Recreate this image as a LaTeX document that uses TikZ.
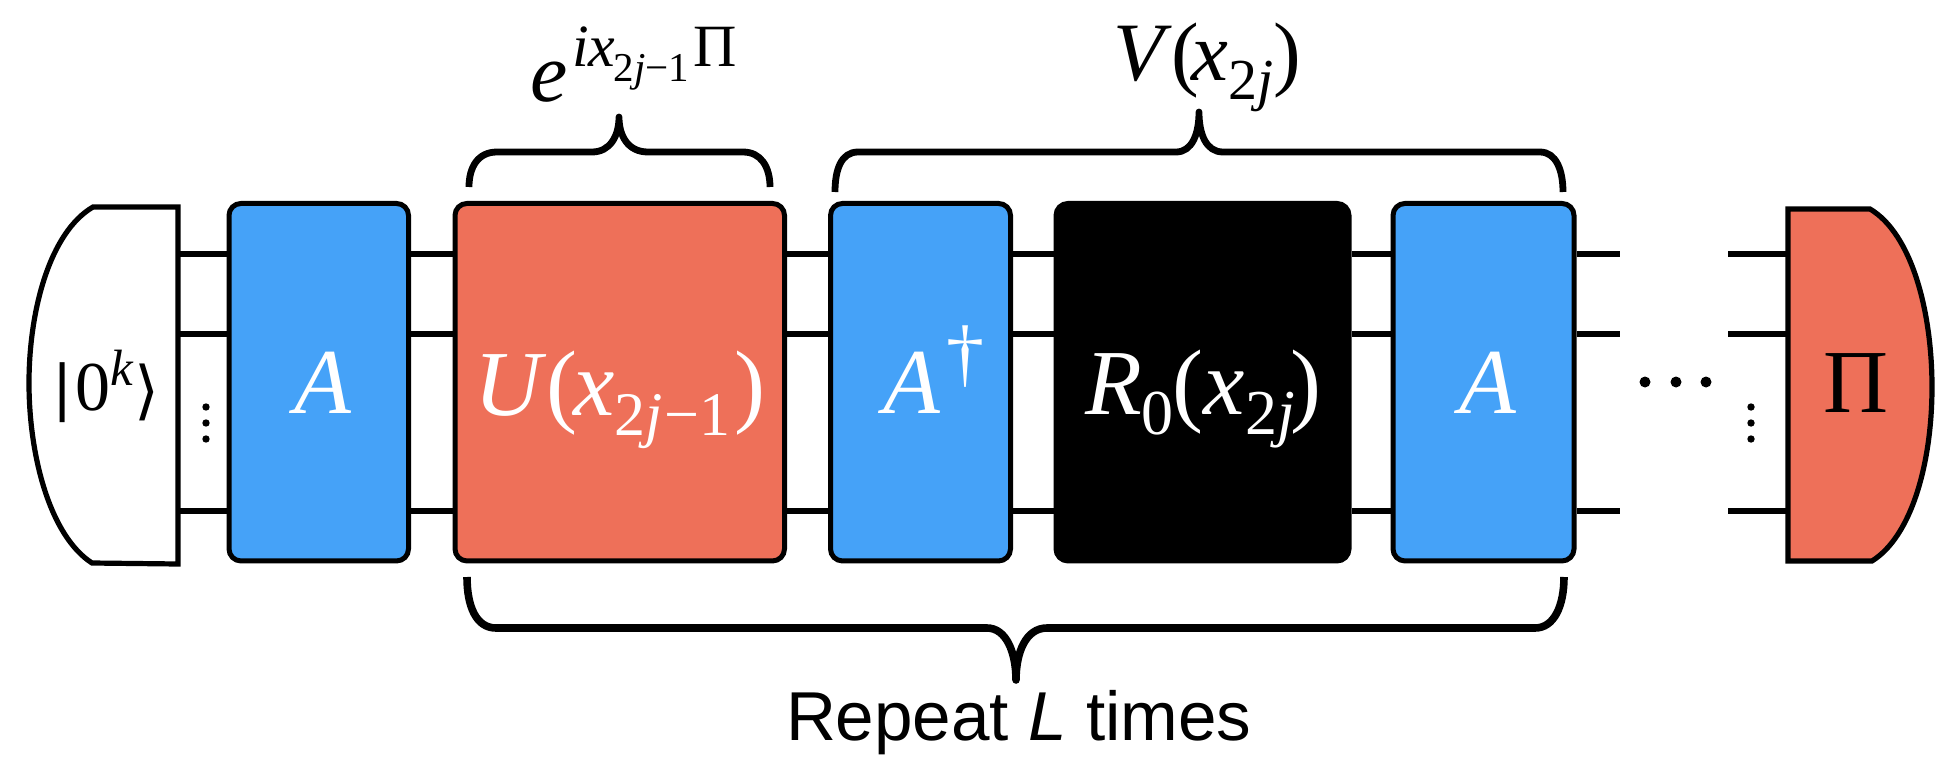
\documentclass[tikz,border=0pt]{standalone}
\usepackage{fontspec}
\setmainfont{Liberation Serif}
\newfontfamily\labelsans{Liberation Sans}
\newfontfamily\delimfont{DejaVu Sans}
\definecolor{gateblue}{HTML}{45A2F8}
\definecolor{gatered}{HTML}{EE7059}
\newcommand{\fs}[1]{\fontsize{#1}{#1}\selectfont}
\newcommand{\drop}[2]{\raisebox{-#1pt}{#2}}
\tikzset{
  gate/.style={draw=black,line width=2.5pt,rounded corners=6pt,inner sep=0pt,text=white},
  wire/.style={line width=3.4pt,line cap=butt},
  curly/.style={line width=3.4pt,line cap=butt,line join=round},
  outline/.style={draw=black,line width=2.6pt,line join=miter},
  tex/.style={inner sep=0pt,outer sep=0pt,anchor=base west},
}
\begin{document}
\begin{tikzpicture}[x=0.5pt,y=-0.5pt]
\useasboundingbox (0,0) rectangle (1956,766);
% wire levels and open ends
\coordinate (lvlA) at (0,254);
\coordinate (lvlB) at (0,334);
\coordinate (lvlC) at (0,511);
\coordinate (prepEdge) at (178,383);
\coordinate (measEdge) at (1788,383);
\coordinate (gapL) at (1620,383);
\coordinate (gapR) at (1728,383);
% gates
\node[gate,fill=gateblue,minimum width=89.75pt,minimum height=178.75pt] (A1) at (318.75,382.2) {};
\node[gate,fill=gatered,minimum width=164.75pt,minimum height=178.75pt] (U) at (619.75,382.2) {};
\node[gate,fill=gateblue,minimum width=90pt,minimum height=178.75pt] (Adag) at (920.5,382.2) {};
\node[gate,fill=black,minimum width=146.5pt,minimum height=178.75pt] (R) at (1202.5,382.2) {};
\node[gate,fill=gateblue,minimum width=90.5pt,minimum height=178.75pt] (A2) at (1483.5,382.2) {};
% qubit lines between the gates
\foreach \lvl in {lvlA,lvlB,lvlC}{
  \draw[wire] (prepEdge |- \lvl) -- (A1.west |- \lvl);
  \draw[wire] (A1.east |- \lvl) -- (U.west |- \lvl);
  \draw[wire] (U.east |- \lvl) -- (Adag.west |- \lvl);
  \draw[wire] (Adag.east |- \lvl) -- (R.west |- \lvl);
  \draw[wire] (R.east |- \lvl) -- (A2.west |- \lvl);
  \draw[wire] (A2.east |- \lvl) -- (gapL |- \lvl);
  \draw[wire] (gapR |- \lvl) -- (measEdge |- \lvl);
}
% state preparation cap
\draw[outline,fill=white] (178,207) -- (93,207)
  .. controls (50,232) and (29,310) .. (29,383)
  .. controls (29,456) and (50,536) .. (92,563) -- (178,564) -- cycle;
% measurement cap
\draw[outline,fill=gatered] (1788,209) -- (1870,209)
  .. controls (1912,234) and (1932,312) .. (1932,387)
  .. controls (1932,462) and (1912,536) .. (1872,561) -- (1788,561) -- cycle;
% dots
\foreach \y in {407,423,439}{
  \fill (206,\y) circle[radius=3.7];
  \fill (1751,\y) circle[radius=3.7];
}
\foreach \x in {1645,1676,1706}{ \fill (\x,382) circle[radius=5.5]; }
% braces
\draw[curly] (469,187) .. controls (469,167) and (478,152) .. (497,152) -- (592,152)
  .. controls (610,152) and (619,136) .. (619,117)
  .. controls (619,136) and (628,152) .. (648,152) -- (743,152)
  .. controls (761,152) and (770,167) .. (770,187);
\draw[curly] (835,192) .. controls (835,170) and (841,152) .. (858,152) -- (1176,152)
  .. controls (1192,152) and (1199,134) .. (1199,112)
  .. controls (1199,134) and (1206,152) .. (1223,152) -- (1540,152)
  .. controls (1556,152) and (1563,170) .. (1563,192);
\draw[curly,line width=3.8pt] (467,577) .. controls (467,606) and (476,628) .. (496,628) -- (987,628)
  .. controls (1006,628) and (1016,652) .. (1016,680)
  .. controls (1016,652) and (1026,628) .. (1047,628) -- (1535,628)
  .. controls (1554,628) and (1564,606) .. (1564,577);
% labels
\node[tex] (ket) at (52,410) {\fs{35}{\delimfont\fs{30}\raisebox{1pt}{|}}\hspace{1.5pt}0\raisebox{12.5pt}{\fs{25.5}\textit{k}}\hspace{0.5pt}\raisebox{-1pt}{\delimfont\fs{32}⟩}};
\node[tex,text=white] (lA1) at (294,413) {\fs{46.5}\textit{A}};
\node[tex,text=white] (lU) at (474,415) {\fs{46.5}\textit{U}(\hspace{-2pt}\textit{x}\drop{10}{\fs{31}2\textit{j}\hspace{1pt}−1}\hspace{2pt})};
\node[tex,text=white] (lAd) at (883,413) {\fs{46.5}\textit{A}\hspace{3pt}\raisebox{17.5pt}{\fs{38}†}};
\node[tex,text=white] (lR) at (1085,414) {\fs{46.5}\textit{R}\drop{10}{\fs{32}0}\hspace{-0.5pt}(\textit{x}\drop{10}{\fs{32}2\textit{j}}\hspace{-2pt})};
\node[tex,text=white] (lA2) at (1459,413) {\fs{46.5}\textit{A}};
\node[tex] (lPi) at (1823,412) {\fs{45}Π};
\node[tex] (lExp) at (530,101) {\fs{42}\textit{e}\hspace{2.5pt}\raisebox{17.5pt}{\fs{30}\textit{ix}\hspace{-1pt}\drop{7.5}{\fs{20.5}2\textit{j}−1}\hspace{2pt}Π}};
\node[tex] (lV) at (1113,80) {\fs{41.5}\textit{V}(\hspace{-4pt}\textit{x}\drop{9.5}{\fs{29}2\textit{j}})};
\node[tex] (lRep) at (786,740) {\labelsans\fs{34.6}Repeat \textit{L} times};
\end{tikzpicture}
\end{document}
